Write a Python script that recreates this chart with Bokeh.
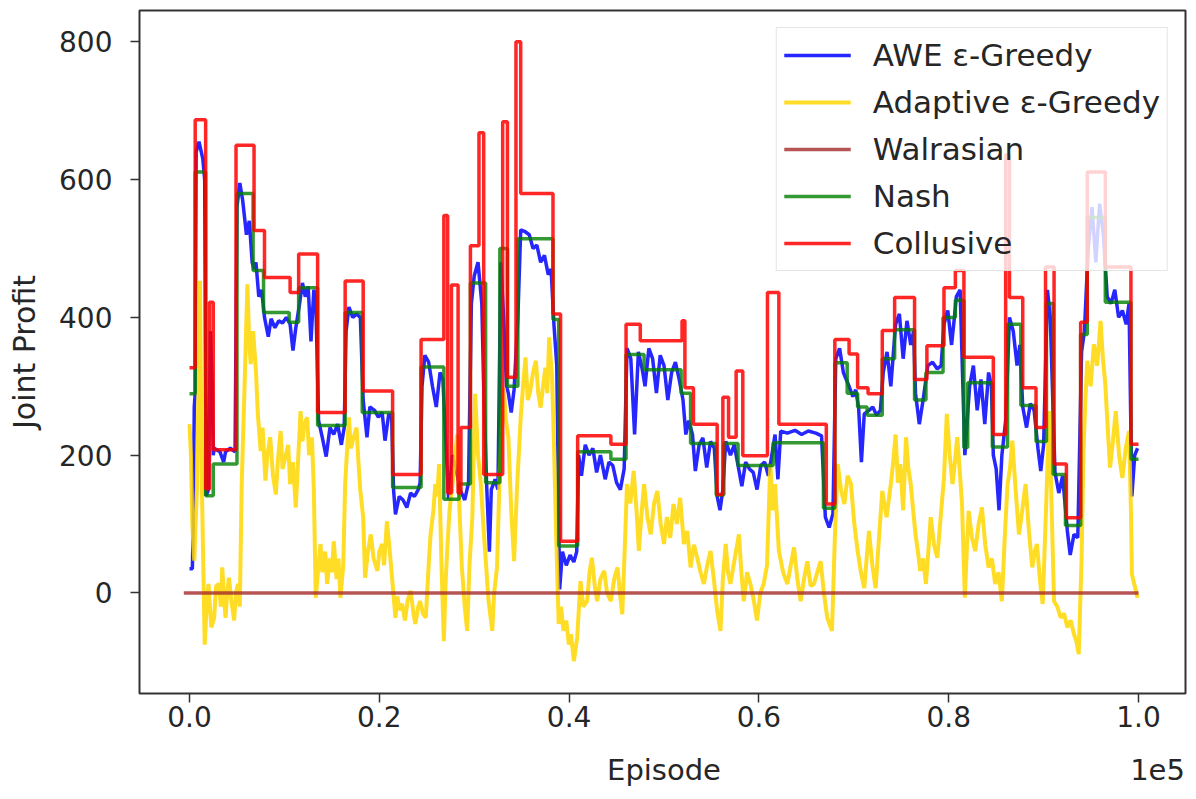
from bokeh.plotting import figure
from bokeh.models import Range1d, FixedTicker, Legend, LegendItem, LinearAxis
from bokeh.embed import file_html
from bokeh.resources import INLINE

# ---------------- data (episodes in thousands) ----------------
collusive_x = [0, 0.6, 1.7, 2.1, 2.5, 4.9, 6.8, 7.9, 10.6, 11.5,
               13.5, 16.4, 18.3, 21.4, 24.4, 26.8, 27.2, 27.6, 28.3, 28.6,
               29.6, 30.5, 31.0, 33.0, 33.5, 34.4, 34.9, 38.3, 39.1, 40.9,
               44.4, 46.0, 47.5, 51.9, 52.2, 53.1, 55.6, 56.2, 56.8, 57.6,
               58.3, 60.9, 62.1, 67.1, 68.0, 69.5, 70.4, 71.5, 73.0, 74.3,
               76.4, 77.7, 79.5, 80.7, 81.6, 84.7, 86.0, 86.4, 87.8, 89.2,
               90.2, 91.1, 92.4, 93.9, 94.6, 96.5, 99.2, 100]
collusive_y = [327, 687, 151, 422, 208, 650, 526, 458, 436, 492,
               262, 453, 293, 172, 368, 548, 145, 447, 145, 240,
               504, 668, 172, 684, 313, 800, 580, 405, 75, 228,
               216, 390, 366, 395, 298, 245, 143, 284, 226, 322,
               199, 436, 245, 129, 368, 347, 298, 289, 381, 429,
               310, 359, 443, 468, 342, 230, 636, 429, 298, 240,
               473, 187, 109, 393, 611, 473, 216, 216]

nash_x = [0, 0.6, 1.7, 2.5, 5.0, 6.7, 7.8, 10.5, 11.5, 13.5,
          16.4, 18.2, 21.4, 24.4, 26.8, 28.4, 29.6, 31.2, 32.7, 33.5,
          34.6, 38.3, 38.9, 40.9, 44.4, 46.0, 47.9, 51.8, 52.8, 55.5,
          56.3, 57.8, 61.5, 66.8, 68.0, 69.3, 70.4, 71.4, 73.0, 74.3,
          76.4, 77.6, 79.4, 80.7, 81.6, 82.0, 84.6, 86.2, 87.6, 89.2,
          90.3, 91.0, 92.3, 93.9, 94.6, 96.5, 99.2, 100]
nash_y = [289, 611, 141, 187, 580, 468, 407, 393, 443, 243,
          407, 262, 153, 328, 136, 158, 450, 160, 500, 300,
          514, 397, 68, 205, 194, 346, 324, 290, 217, 142,
          217, 185, 218, 123, 334, 290, 270, 258, 340, 382,
          280, 320, 400, 425, 211, 305, 212, 390, 272, 220,
          420, 172, 98, 375, 545, 422, 194, 194]

walrasian_x = [-0.6, 100]
walrasian_y = [0, 0]

awe_x = [0.0, 0.3, 0.4, 0.5, 0.6, 0.7, 1.0, 1.4, 1.6, 1.75,
         2.0, 2.2, 2.4, 2.5, 2.6, 3.2, 3.6, 3.8, 4.3, 4.8,
         5.0, 5.3, 5.6, 6.0, 6.3, 6.6, 6.8, 7.0, 7.3, 7.6,
         7.9, 8.3, 8.6, 9.0, 9.4, 9.8, 10.2, 10.6, 10.9, 11.2,
         11.6, 11.9, 12.2, 12.5, 12.8, 13.1, 13.3, 13.6, 14.0, 14.4,
         14.8, 15.2, 15.6, 16.0, 16.3, 16.5, 16.8, 17.2, 17.6, 18.0,
         18.3, 18.7, 19.0, 19.5, 19.9, 20.3, 20.6, 21.0, 21.3, 21.5,
         21.7, 22.1, 22.5, 22.9, 23.3, 23.7, 24.1, 24.3, 24.5, 24.8,
         25.2, 25.6, 26.0, 26.4, 26.7, 26.9, 27.3, 27.7, 28.1, 28.5,
         29.0, 29.4, 29.7, 30.0, 30.4, 30.8, 31.0, 31.3, 31.6, 31.8,
         32.2, 32.5, 32.8, 33.1, 33.4, 33.6, 33.9, 34.2, 34.6, 34.9,
         35.3, 35.8, 36.2, 36.6, 37.0, 37.4, 37.8, 38.1, 38.4, 38.7,
         39.0, 39.3, 39.7, 40.1, 40.5, 40.8, 41.0, 41.3, 41.7, 42.1,
         42.5, 42.9, 43.3, 43.8, 44.2, 44.6, 45.0, 45.4, 45.8, 46.1,
         46.5, 46.9, 47.3, 47.7, 48.0, 48.4, 48.8, 49.2, 49.6, 50.0,
         50.4, 50.8, 51.2, 51.6, 52.0, 52.3, 52.6, 53.0, 53.3, 53.7,
         54.1, 54.5, 54.9, 55.3, 55.6, 55.9, 56.2, 56.5, 57.0, 57.4,
         57.8, 58.2, 58.6, 59.0, 59.4, 59.8, 60.2, 60.6, 61.0, 61.3,
         61.7, 62.0, 62.3, 63.0, 63.8, 64.5, 65.2, 66.0, 66.6, 67.0,
         67.4, 67.8, 68.1, 68.5, 68.9, 69.5, 69.9, 70.2, 70.5, 70.8,
         71.1, 71.6, 72.0, 72.4, 72.8, 73.1, 73.5, 73.9, 74.4, 74.8,
         75.2, 75.6, 76.0, 76.3, 76.5, 76.9, 77.3, 77.8, 78.3, 78.8,
         79.2, 79.5, 79.9, 80.3, 80.6, 80.8, 81.2, 81.7, 81.9, 82.2,
         82.6, 83.0, 83.4, 83.8, 84.2, 84.5, 84.7, 85.0, 85.3, 85.6,
         86.0, 86.4, 86.8, 87.2, 87.5, 87.8, 88.2, 88.6, 89.0, 89.4,
         89.7, 90.0, 90.4, 90.7, 91.2, 91.6, 92.0, 92.5, 92.8, 93.2,
         93.6, 94.0, 94.3, 94.7, 95.1, 95.5, 95.9, 96.3, 96.7, 97.1,
         97.5, 97.9, 98.3, 98.7, 99.0, 99.3, 99.6, 99.9]
awe_y = [35, 35, 100, 270, 290, 640, 655, 630, 600, 141,
         150, 380, 300, 200, 210, 205, 190, 205, 210, 205,
         560, 595, 570, 520, 540, 480, 470, 480, 430, 440,
         400, 372, 398, 385, 395, 392, 400, 390, 352, 385,
         420, 450, 430, 445, 365, 440, 430, 250, 225, 198,
         240, 230, 245, 215, 240, 380, 415, 400, 405, 400,
         280, 226, 270, 265, 255, 262, 221, 260, 255, 150,
         114, 140, 135, 124, 145, 140, 150, 160, 300, 345,
         335, 300, 270, 320, 310, 250, 136, 200, 180, 150,
         135, 160, 420, 460, 480, 420, 300, 160, 60, 150,
         165, 150, 480, 400, 300, 290, 262, 295, 400, 527,
         525, 520, 500, 505, 480, 490, 462, 470, 390, 330,
         5, 60, 40, 55, 45, 60, 200, 170, 215, 200,
         210, 175, 200, 165, 190, 185, 160, 150, 180, 355,
         340, 230, 350, 325, 300, 355, 340, 290, 345, 330,
         280, 320, 335, 310, 280, 230, 250, 230, 177, 215,
         225, 182, 220, 210, 140, 120, 150, 220, 200, 215,
         185, 155, 190, 180, 175, 150, 185, 190, 170, 195,
         230, 165, 235, 232, 236, 230, 235, 232, 228, 110,
         95, 115, 340, 355, 320, 300, 285, 295, 270, 190,
         260, 265, 270, 258, 265, 320, 350, 300, 390, 405,
         340, 395, 360, 380, 290, 245, 280, 330, 335, 325,
         330, 390, 410, 360, 400, 430, 440, 200, 240, 300,
         330, 265, 310, 245, 320, 300, 200, 180, 120, 200,
         250, 400, 380, 330, 360, 270, 240, 275, 265, 210,
         177, 215, 440, 400, 175, 145, 170, 90, 55, 85,
         80, 350, 380, 500, 560, 480, 565, 520, 430, 420,
         440, 400, 410, 390, 420, 140, 200, 210]

adaptive_x = [0.0, 0.15, 0.3, 0.5, 0.8, 1.1, 1.3, 1.6, 1.8, 2.0,
              2.3, 2.6, 2.8, 3.1, 3.3, 3.45, 3.6, 3.8, 4.0, 4.15,
              4.4, 4.7, 4.9, 5.1, 5.3, 5.5, 5.8, 6.1, 6.3, 6.45,
              6.7, 7.0, 7.2, 7.5, 7.7, 8.0, 8.2, 8.5, 8.8, 9.1,
              9.3, 9.6, 9.8, 10.1, 10.4, 10.6, 10.9, 11.2, 11.4, 11.7,
              11.9, 12.1, 12.4, 12.6, 12.9, 13.1, 13.3, 13.6, 13.8, 14.0,
              14.3, 14.5, 14.8, 15.0, 15.2, 15.5, 15.7, 15.9, 16.2, 16.4,
              16.8, 17.0, 17.3, 17.6, 17.8, 18.0, 18.3, 18.5, 18.8, 19.1,
              19.4, 19.8, 20.0, 20.3, 20.5, 20.8, 21.1, 21.4, 21.7, 21.9,
              22.1, 22.4, 22.7, 23.0, 23.3, 23.6, 23.8, 24.1, 24.3, 24.6,
              24.9, 25.2, 25.4, 25.7, 25.9, 26.1, 26.3, 26.55, 26.8, 27.0,
              27.15, 27.4, 27.7, 27.95, 28.2, 28.45, 28.7, 29.0, 29.26, 29.5,
              29.8, 30.1, 30.4, 30.7, 31.0, 31.2, 31.5, 31.9, 32.1, 32.4,
              32.7, 33.1, 33.35, 33.6, 33.9, 34.2, 34.5, 34.9, 35.15, 35.4,
              35.65, 35.9, 36.2, 36.5, 36.75, 37.0, 37.25, 37.5, 37.7, 37.9,
              38.2, 38.4, 38.6, 38.9, 39.15, 39.4, 39.7, 39.97, 40.2, 40.5,
              40.85, 41.2, 41.5, 41.9, 42.15, 42.4, 42.7, 42.96, 43.3, 43.7,
              44.0, 44.4, 44.75, 45.1, 45.35, 45.6, 45.85, 46.1, 46.45, 46.8,
              47.1, 47.35, 47.6, 47.9, 48.25, 48.6, 48.95, 49.3, 49.65, 50.0,
              50.3, 50.65, 51.0, 51.35, 51.7, 52.1, 52.45, 52.8, 53.15, 53.5,
              53.85, 54.2, 54.55, 54.9, 55.25, 55.6, 55.95, 56.2, 56.5, 56.75,
              57.0, 57.45, 57.9, 58.15, 58.4, 58.75, 59.1, 59.45, 59.8, 60.15,
              60.5, 60.85, 61.2, 61.45, 61.7, 62.1, 62.55, 63.0, 63.35, 63.7,
              64.05, 64.4, 64.75, 65.1, 65.45, 65.8, 66.15, 66.5, 66.85, 67.2,
              67.7, 68.0, 68.3, 68.65, 69.0, 69.35, 69.7, 70.05, 70.4, 70.75,
              71.1, 71.35, 71.6, 71.95, 72.3, 72.65, 73.0, 73.45, 73.9, 74.15,
              74.4, 74.65, 74.9, 75.2, 75.5, 75.75, 76.0, 76.25, 76.5, 76.75,
              77.0, 77.3, 77.6, 77.85, 78.1, 78.45, 78.8, 79.15, 79.5, 79.8,
              80.1, 80.4, 80.65, 80.9, 81.15, 81.4, 81.7, 81.9, 82.1, 82.45,
              82.8, 83.15, 83.5, 83.85, 84.2, 84.55, 84.9, 85.25, 85.6, 85.9,
              86.2, 86.45, 86.7, 87.05, 87.4, 87.75, 88.1, 88.45, 88.8, 89.05,
              89.3, 89.6, 89.9, 90.25, 90.6, 90.85, 91.1, 91.45, 91.8, 92.15,
              92.5, 92.85, 93.2, 93.45, 93.7, 94.0, 94.2, 94.4, 94.6, 94.95,
              95.3, 95.65, 96.0, 96.25, 96.5, 96.75, 97.0, 97.3, 97.6, 97.95,
              98.3, 98.65, 99.0, 99.2, 99.3, 99.6, 99.9]
adaptive_y = [245, 200, 100, 47, 158, 453, 158, -75, -20, 13,
              -50, -36, 10, 13, -20, 37, 0, -36, 5, 22,
              -10, -40, 0, 13, -20, 158, 300, 448, 360, 332,
              380, 322, 260, 206, 240, 163, 200, 226, 170, 143,
              190, 235, 180, 197, 215, 158, 190, 124, 180, 264,
              220, 245, 255, 200, 226, 150, -7, 40, 71, 30,
              60, 13, 50, 30, 75, 20, 50, -7, 40, 158,
              255, 210, 226, 240, 190, 148, 110, 22, 60, 85,
              50, 32, 60, 71, 40, 104, 60, 13, -36, -5,
              -25, -16, -40, -10, 3, -30, -45, -20, -12, -30,
              -36, 40, 85, 120, 158, 140, 187, 40, -70, 20,
              61, 120, 158, 190, 230, 120, 37, -20, -55, 40,
              110, 289, 200, 158, 90, 51, -10, -55, 0, 37,
              180, 298, 250, 226, 120, 46, 150, 255, 300, 342,
              280, 293, 320, 337, 290, 269, 300, 327, 290, 371,
              313, 220, 100, -45, -20, -55, -40, -75, -60, -99,
              -65, 17, -20, -12, 30, 51, 10, -12, 20, 32,
              0, -12, 20, 37, 0, -31, 60, 158, 130, 177,
              120, 61, 110, 158, 110, 85, 130, 148, 100, 71,
              110, 80, 129, 100, 138, 71, 90, 37, 70, 51,
              30, 13, 40, 61, 20, -26, -55, 20, 71, 30,
              13, 50, 85, 30, -12, 30, 13, -10, -40, 0,
              13, 40, 187, 120, 158, 61, 30, 13, 40, 66,
              20, -12, 20, 46, 10, 13, 30, 46, 0, -36,
              -55, 80, 187, 150, 129, 170, 158, 100, 61, 30,
              7, 50, 90, 40, 7, 80, 148, 110, 158, 190,
              230, 160, 187, 120, 226, 180, 158, 120, 85, 60,
              32, 50, 13, 60, 110, 70, 51, 110, 167, 260,
              200, 158, 190, 226, 180, 129, -7, 60, 119, 80,
              61, 100, 124, 70, 37, 50, 13, 30, -12, 80,
              158, 180, 221, 150, 85, 120, 158, 90, 37, 60,
              71, 20, -16, 120, 264, 120, -12, -20, -36, -30,
              -50, -40, -60, -70, -89, 50, 206, 280, 337, 300,
              361, 330, 395, 340, 303, 240, 182, 220, 264, 200,
              167, 210, 235, 120, 27, 10, -7]

x_ticks = [0, 20, 40, 60, 80, 100]
x_tick_labels = ["0.0", "0.2", "0.4", "0.6", "0.8", "1.0"]
y_ticks = [0, 200, 400, 600, 800]
x_title = "Episode"
x_title_pos = 50
offset_text = "1e5"
offset_pos = 102

# ---------------- figure ----------------
FONT = "DejaVu Sans"
TXT = "#262626"

p = figure(width=1196, height=799, output_backend="svg", toolbar_location=None,
           x_range=Range1d(-5.27, 104.95), y_range=Range1d(-146, 845.5),
           min_border_left=139, min_border_right=11, min_border_top=10,
           min_border_bottom=106)
p.background_fill_color = "white"
p.border_fill_color = "white"
p.grid.visible = False
p.outline_line_color = "#333333"
p.outline_line_width = 2

r_awe = p.line(awe_x, awe_y, line_color="blue", line_alpha=0.85, line_width=3.5)
r_ada = p.line(adaptive_x, adaptive_y, line_color="gold", line_alpha=0.85, line_width=4)
r_wal = p.line(walrasian_x, walrasian_y, line_color="brown", line_alpha=0.8, line_width=3.5)
r_nash = p.step(nash_x, nash_y, mode="after", line_color="green", line_alpha=0.8, line_width=3.5)
r_col = p.step(collusive_x, collusive_y, mode="after", line_color="red", line_alpha=0.85, line_width=3.5)

def style_axis(ax):
    ax.axis_line_color = None
    ax.major_tick_line_color = "#333333"
    ax.major_tick_line_width = 1.5
    ax.major_tick_in = 0
    ax.major_tick_out = 9
    ax.minor_tick_line_color = None
    ax.major_label_text_font = FONT
    ax.major_label_text_font_size = "28px"
    ax.major_label_text_color = TXT
    ax.axis_label_text_font = FONT
    ax.axis_label_text_font_size = "30px"
    ax.axis_label_text_font_style = "normal"
    ax.axis_label_text_color = TXT

style_axis(p.xaxis[0])
style_axis(p.yaxis[0])

p.xaxis[0].ticker = FixedTicker(ticks=x_ticks)
p.xaxis[0].major_label_overrides = dict(zip(x_ticks, x_tick_labels))
p.xaxis[0].major_label_standoff = 3

p.yaxis.ticker = FixedTicker(ticks=y_ticks)
p.yaxis.major_label_standoff = 18
p.yaxis.axis_label = "Joint Profit"
p.yaxis.axis_label_standoff = 14

# second x axis row: the "Episode" title and the 1e5 offset text on one line
ax2 = LinearAxis(ticker=FixedTicker(ticks=[x_title_pos, offset_pos]),
                 major_label_overrides={x_title_pos: x_title, offset_pos: offset_text})
style_axis(ax2)
ax2.major_tick_out = 0
ax2.major_tick_line_color = None
ax2.major_label_text_font_size = "29px"
ax2.major_label_standoff = 23
p.add_layout(ax2, "below")

legend = Legend(items=[
    LegendItem(label="AWE ε-Greedy", renderers=[r_awe]),
    LegendItem(label="Adaptive ε-Greedy", renderers=[r_ada]),
    LegendItem(label="Walrasian", renderers=[r_wal]),
    LegendItem(label="Nash", renderers=[r_nash]),
    LegendItem(label="Collusive", renderers=[r_col]),
], location="top_right")
legend.margin = 17
legend.padding = 7
legend.spacing = 7
legend.label_height = 40
legend.glyph_height = 40
legend.glyph_width = 67
legend.label_standoff = 22
legend.label_text_font = FONT
legend.label_text_font_size = "31px"
legend.label_text_color = TXT
legend.border_line_color = "#cccccc"
legend.border_line_width = 1.5
legend.background_fill_color = "white"
legend.background_fill_alpha = 0.8
p.add_layout(legend)

open("out.html", "w").write(file_html(p, INLINE))
